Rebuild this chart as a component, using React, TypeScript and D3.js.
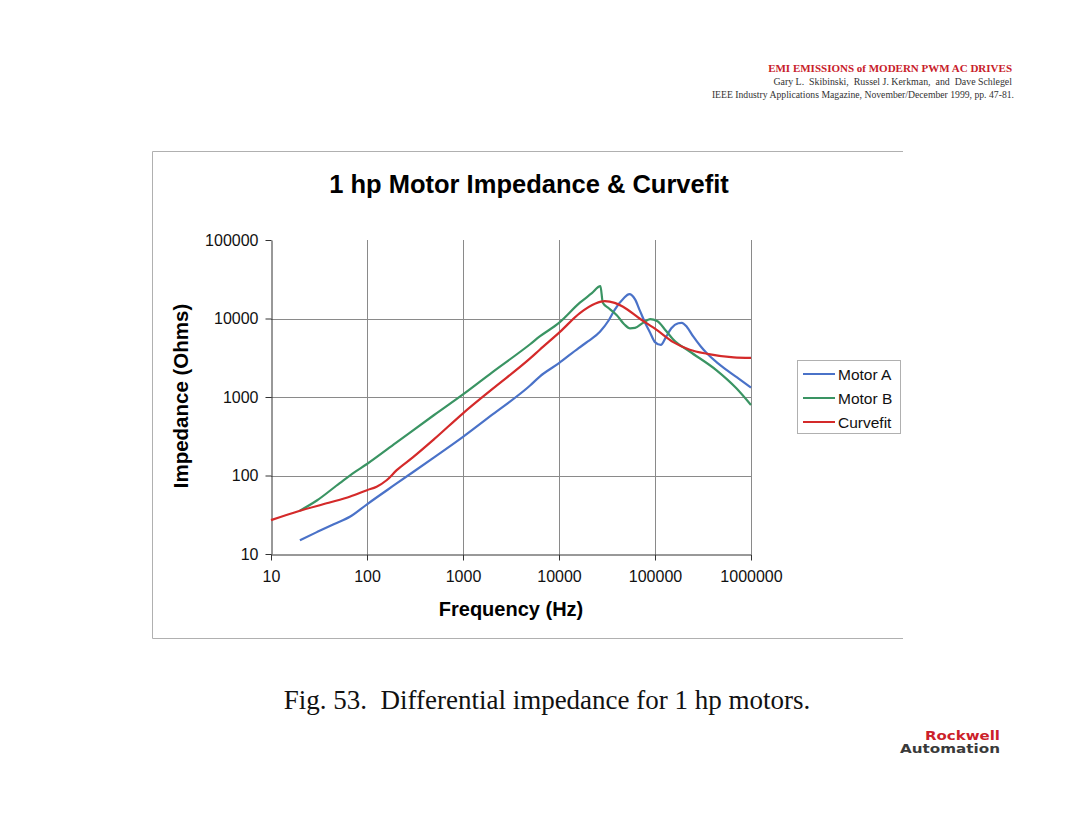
import { useEffect, useRef } from "react";
import * as d3 from "d3";

type Pt = [number, number]; // [frequency Hz, impedance Ohms]

const motorA: Pt[] = [
  [20, 15], [30, 19], [45, 24], [67, 30], [100, 43], [200, 78], [500, 170],
  [1000, 310], [2000, 590], [5000, 1400], [6300, 1820], [10000, 2700],
  [16000, 4200], [20000, 5100], [26700, 6800], [33000, 9500], [38000, 12900],
  [47000, 18000], [54000, 20400], [62000, 17500], [69000, 12900], [80000, 8500],
  [89000, 6600], [100000, 5000], [115000, 4600], [130000, 5800], [148000, 7500],
  [175000, 8700], [190000, 8800], [215000, 7800], [250000, 5900], [300000, 4400],
  [347000, 3600], [450000, 2700], [560000, 2200], [750000, 1700], [1000000, 1320],
];

const motorB: Pt[] = [
  [20, 35.6], [30, 48], [52, 80], [70, 105], [100, 140], [200, 260], [500, 590],
  [1000, 1080], [2000, 2050], [5000, 4700], [6300, 5900], [10000, 8800],
  [16500, 15900], [22000, 21000], [27000, 25800], [28600, 15900], [33000, 13500],
  [40000, 11000], [48000, 8400], [55000, 7500], [62000, 7600], [75000, 8800],
  [89000, 9800], [105000, 9300], [130000, 7000], [155000, 5400], [230000, 3800],
  [435000, 2200], [700000, 1300], [1000000, 790],
];

const curvefit: Pt[] = [
  [10, 27], [20, 35.6], [40, 45], [67, 54], [100, 65], [126, 72], [160, 87],
  [204, 117], [300, 170], [500, 290], [1000, 620], [2000, 1250], [5000, 3100],
  [6300, 4000], [10300, 6800], [16500, 11700], [24000, 15500], [30000, 16600],
  [38000, 15800], [46500, 14100], [69000, 10000], [105000, 7100], [155000, 5000],
  [230000, 4000], [350000, 3550], [660000, 3200], [1000000, 3150],
];

const series = [
  { label: "Motor A", color: "#4a72c8", data: motorA },
  { label: "Motor B", color: "#3a9463", data: motorB },
  { label: "Curvefit", color: "#d42a2a", data: curvefit },
];

const xTicks = [10, 100, 1000, 10000, 100000, 1000000];
const yTicks = [10, 100, 1000, 10000, 100000];

const SANS = "Liberation Sans, Arial, sans-serif";
const SERIF = "Liberation Serif, Times New Roman, serif";

export default function App() {
  const svgRef = useRef<SVGSVGElement>(null);

  useEffect(() => {
    if (!svgRef.current) return;
    const svg = d3.select(svgRef.current);
    svg.selectAll("*").remove();

    svg.append("rect").attr("width", 1080).attr("height", 834).attr("fill", "#fff");

    // header citation
    const head = svg.append("g").attr("font-family", SERIF).attr("text-anchor", "end");
    head.append("text").attr("x", 1012).attr("y", 72).attr("font-size", "11px")
      .attr("font-weight", "bold").attr("fill", "#c8202a")
      .text("EMI EMISSIONS of MODERN PWM AC DRIVES");
    head.append("text").attr("x", 1012).attr("y", 85).attr("font-size", "9.9px")
      .attr("fill", "#333").attr("xml:space", "preserve").style("white-space", "pre")
      .text("Gary L.  Skibinski,  Russel J. Kerkman,  and  Dave Schlegel");
    head.append("text").attr("x", 1014).attr("y", 98).attr("font-size", "9.7px")
      .attr("fill", "#333")
      .text("IEEE Industry Applications Magazine, November/December 1999, pp. 47-81.");

    // chart frame
    svg.append("path").attr("d", "M903,151.5H152.5V638.5H903")
      .attr("fill", "none").attr("stroke", "#b0b0b0").attr("stroke-width", 1);

    svg.append("text").attr("x", 529).attr("y", 193).attr("text-anchor", "middle")
      .attr("font-family", SANS).attr("font-weight", "bold").attr("font-size", "25.5px")
      .attr("fill", "#000").text("1 hp Motor Impedance & Curvefit");

    const x = d3.scaleLog().domain([10, 1000000]).range([271, 751]);
    const y = d3.scaleLog().domain([10, 100000]).range([554, 240]);

    // grid
    const grid = svg.append("g").attr("stroke", "#8a8a8a").attr("stroke-width", 1);
    xTicks.slice(1).forEach((t) => {
      grid.append("line").attr("x1", Math.round(x(t)) + 0.5).attr("x2", Math.round(x(t)) + 0.5)
        .attr("y1", y(100000)).attr("y2", y(10));
    });
    yTicks.slice(1, -1).forEach((t) => {
      grid.append("line").attr("y1", Math.round(y(t)) + 0.5).attr("y2", Math.round(y(t)) + 0.5)
        .attr("x1", x(10)).attr("x2", x(1000000));
    });

    // axes
    const xAxis = svg.append("g").attr("transform", "translate(0,554.5)")
      .call(d3.axisBottom(x).tickValues(xTicks).tickSize(6).tickSizeOuter(0)
        .tickFormat((d) => String(d)));
    const yAxis = svg.append("g").attr("transform", "translate(271.5,0)")
      .call(d3.axisLeft(y).tickValues(yTicks).tickSize(6).tickSizeOuter(0)
        .tickFormat((d) => String(d)));
    [xAxis, yAxis].forEach((a) => {
      a.select(".domain").attr("stroke", "#333");
      a.selectAll(".tick line").attr("stroke", "#333");
      a.selectAll(".tick text").attr("font-family", SANS).attr("font-size", "16px")
        .attr("fill", "#111");
    });
    xAxis.selectAll(".tick text").attr("dy", "1.05em").attr("y", 11);
    yAxis.selectAll(".tick text").attr("x", -13);

    svg.append("text").attr("x", 511).attr("y", 616).attr("text-anchor", "middle")
      .attr("font-family", SANS).attr("font-weight", "bold").attr("font-size", "20px")
      .text("Frequency (Hz)");
    svg.append("text").attr("transform", "translate(188,396) rotate(-90)")
      .attr("text-anchor", "middle").attr("font-family", SANS).attr("font-weight", "bold")
      .attr("font-size", "20.5px").text("Impedance (Ohms)");

    // curves
    const line = d3.line<Pt>().x((d) => x(d[0])).y((d) => y(d[1])).curve(d3.curveMonotoneX);
    series.forEach((s) => {
      svg.append("path").datum(s.data).attr("d", line).attr("fill", "none")
        .attr("stroke", s.color).attr("stroke-width", 2.2).attr("stroke-linejoin", "round");
    });

    // legend
    const lg = svg.append("g").attr("transform", "translate(797,360)");
    lg.append("rect").attr("x", 0.5).attr("y", 0.5).attr("width", 103).attr("height", 73)
      .attr("fill", "#fff").attr("stroke", "#b0b0b0");
    series.forEach((s, i) => {
      const row = lg.append("g").attr("transform", `translate(0,${14 + i * 24})`);
      row.append("line").attr("x1", 6).attr("x2", 38).attr("stroke", s.color).attr("stroke-width", 2);
      row.append("text").attr("x", 41).attr("y", 5.5).attr("font-family", SANS)
        .attr("font-size", "15.5px").attr("fill", "#111").text(s.label);
    });

    // caption
    svg.append("text").attr("x", 547).attr("y", 709).attr("text-anchor", "middle")
      .attr("font-family", SERIF).attr("font-size", "27px").attr("fill", "#111")
      .attr("xml:space", "preserve").style("white-space", "pre")
      .text("Fig. 53.  Differential impedance for 1 hp motors.");

    // logo
    const logo = svg.append("g").attr("font-family", "DejaVu Sans, sans-serif")
      .attr("font-weight", "bold").attr("text-anchor", "end");
    logo.append("text").attr("x", 1000).attr("y", 740).attr("font-size", "13px")
      .attr("fill", "#cc1f2b").attr("textLength", 75).attr("lengthAdjust", "spacingAndGlyphs")
      .text("Rockwell");
    logo.append("text").attr("x", 1000).attr("y", 753).attr("font-size", "13px")
      .attr("fill", "#3a3a3a").attr("textLength", 100).attr("lengthAdjust", "spacingAndGlyphs")
      .text("Automation");
  }, []);

  return (
    <svg
      ref={svgRef}
      width={1080}
      height={834}
      style={{ position: "absolute", left: 0, top: 0 }}
    />
  );
}
